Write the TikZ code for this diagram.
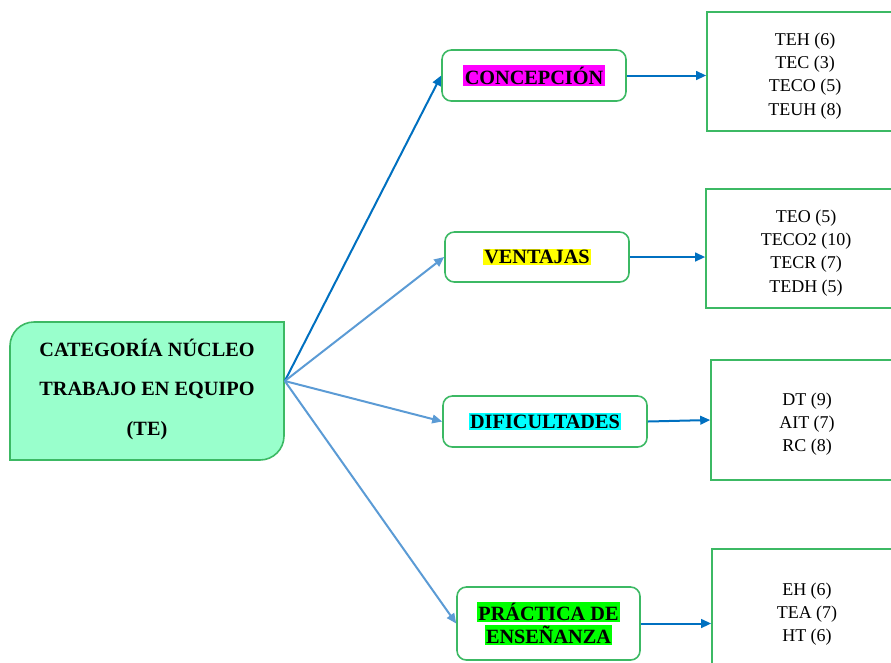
\documentclass[tikz,border=0pt]{standalone}
\usepackage{fontspec}
\setmainfont{Liberation Serif}
\usepackage{tikz}
\usetikzlibrary{arrows.meta}

\definecolor{boxgreen}{RGB}{60,185,100}
\definecolor{corefill}{RGB}{153,255,204}
\definecolor{darkarrow}{RGB}{0,112,192}
\definecolor{lightarrow}{RGB}{91,155,213}
\definecolor{hlgreen}{RGB}{0,255,0}
\definecolor{hlmagenta}{RGB}{255,0,255}
\definecolor{hlcyan}{RGB}{0,255,255}
\definecolor{hlyellow}{RGB}{255,255,0}

\newcommand{\hlbox}[2]{{\setlength{\fboxsep}{1pt}\colorbox{#1}{#2}}}

\begin{document}
\begin{tikzpicture}[x=0.75pt, y=-0.75pt, line width=1.2pt,
    catbox/.style={draw=boxgreen, rounded corners=7pt, fill=white, align=center,
        font=\fontsize{15.2}{18}\selectfont\bfseries},
    codebox/.style={draw=boxgreen, fill=white, align=center, minimum height=89.25pt,
        font=\fontsize{13.5}{17.4}\selectfont},
    darkline/.style={-{Triangle[length=7.5pt,width=6.5pt]}, draw=darkarrow, fill=darkarrow, line width=1.5pt},
    lightline/.style={-{Triangle[length=7.5pt,width=6.5pt]}, draw=lightarrow, fill=lightarrow, line width=1.5pt}]
    \useasboundingbox (0,0) rectangle (891,662);
    \clip (0,0) rectangle (891,662);

    % core category box, two rounded corners
    \filldraw[fill=corefill, draw=boxgreen]
        (10,460) [rounded corners=18pt] -- (10,322) [sharp corners] -- (284,322)
        [rounded corners=18pt] -- (284,460) [sharp corners] -- cycle;
    \node[minimum width=205.5pt, minimum height=103.5pt, align=center,
        font=\fontsize{15.2}{29.6}\selectfont\bfseries] (core) at (147,389)
        {CATEGORÍA NÚCLEO\\TRABAJO EN EQUIPO\\(TE)};

    % subcategory boxes
    \node[catbox, minimum width=138pt, minimum height=38.25pt] (concep) at (534,75.5)
        {\hlbox{hlmagenta}{CONCEPCIÓN}};
    \node[catbox, minimum width=138pt, minimum height=37.5pt] (vent) at (537,257)
        {\hlbox{hlyellow}{VENTAJAS}};
    \node[catbox, minimum width=153pt, minimum height=38.25pt] (dific) at (545,421.5)
        {\hlbox{hlcyan}{DIFICULTADES}};
    \node[catbox, minimum width=137.25pt, minimum height=54.75pt] (pract) at (548.5,623.5)
        {\hlbox{hlgreen}{PRÁCTICA DE}\\[-0.75pt]\hlbox{hlgreen}{ENSEÑANZA}};

    % code boxes
    \node[codebox, minimum width=147pt] (teh) at (805,71.5)
        {\rule{0pt}{16pt}TEH (6)\\TEC (3)\\TECO (5)\\TEUH (8)};
    \node[codebox, minimum width=150pt] (teo) at (806,248.5)
        {\rule{0pt}{16pt}TEO (5)\\TECO2 (10)\\TECR (7)\\TEDH (5)};
    \node[codebox, minimum width=144pt, minimum height=90pt] (dt) at (807,420)
        {\rule{0pt}{16pt}DT (9)\\AIT (7)\\RC (8)};
    \node[codebox, minimum width=142.5pt, minimum height=91.5pt] (eh) at (807,610)
        {\rule{0pt}{16pt}EH (6)\\TEA (7)\\HT (6)};

    % arrows from the core
    \coordinate (hub) at ([yshift=6pt]core.east);
    \draw[darkline] (hub) -- (concep.west);
    \draw[lightline] (hub) -- (vent.west);
    \draw[lightline] (hub) -- (dific.west);
    \draw[lightline] (hub) -- (pract.west);

    % arrows to the codes
    \draw[darkline] (concep.east) -- (concep.east -| teh.west);
    \draw[darkline] (vent.east) -- (vent.east -| teo.west);
    \draw[darkline] (dific.east) -- (dt.west);
    \draw[darkline] (pract.east) -- (pract.east -| eh.west);
\end{tikzpicture}
\end{document}
